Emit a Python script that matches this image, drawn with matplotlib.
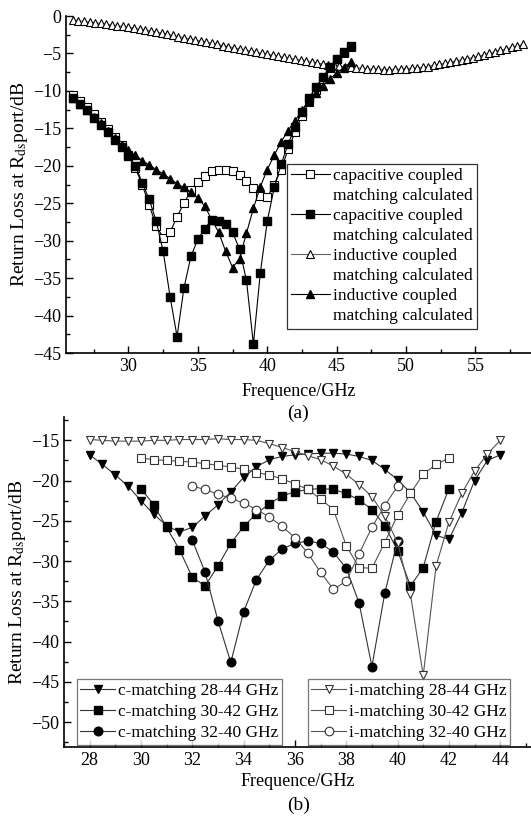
import matplotlib
matplotlib.use("Agg")
import matplotlib.pyplot as plt
from matplotlib.ticker import MultipleLocator
from matplotlib.lines import Line2D

plt.rcParams['font.family'] = ['Liberation Serif', 'DejaVu Serif']
plt.rcParams['mathtext.fontset'] = 'stix'

# ---------------- panel (a) data ----------------
xa = [26.0, 26.5, 27.0, 27.5, 28.0, 28.5, 29.0, 29.5, 30.0, 30.5, 31.0, 31.5, 32.0, 32.5,
      33.0, 33.5, 34.0, 34.5, 35.0, 35.5, 36.0, 36.5, 37.0, 37.5, 38.0, 38.5, 39.0, 39.5,
      40.0, 40.5, 41.0, 41.5, 42.0, 42.5, 43.0, 43.5, 44.0, 44.5, 45.0, 45.5, 46.0]
cap_open = [-10.6, -11.4, -12.2, -13.1, -14.1, -15.1, -16.1, -17.2, -18.5, -20.3, -22.6, -25.3,
            -28.0, -29.6, -28.9, -26.8, -25.0, -23.3, -22.2, -21.3, -20.7, -20.5, -20.5, -20.7,
            -21.2, -22.0, -23.0, -24.0, -24.2, -22.5, -20.5, -17.8, -15.5, -13.3, -11.5, -9.9,
            -8.4, -7.0, -5.8, -4.9, -4.1]
cap_fill = [-11.0, -11.7, -12.6, -13.6, -14.5, -15.5, -16.5, -17.5, -18.7, -20.0, -22.3, -24.5,
            -27.4, -31.4, -37.5, -42.8, -36.3, -32.1, -29.8, -28.4, -27.2, -27.4, -27.8, -28.9,
            -31.1, -35.3, -43.8, -34.3, -27.4, -22.9, -19.8, -17.1, -14.8, -12.8, -11.0, -9.5,
            -8.2, -6.8, -5.7, -4.8, -4.0]
ind_fill = [-11.0, -11.8, -12.6, -13.5, -14.3, -15.3, -16.3, -17.2, -17.9, -18.6, -19.3, -19.9,
            -20.5, -21.1, -21.7, -22.4, -22.9, -23.5, -24.3, -25.4, -27.2, -28.9, -31.4, -33.6,
            -32.4, -29.0, -25.7, -22.8, -20.5, -18.6, -16.8, -15.3, -14.0, -12.6, -11.3, -10.3,
            -9.3, -8.4, -7.6, -6.9, -6.2]
xa_ind = [26.0, 26.4, 26.8, 27.2, 27.6, 28.0, 28.4, 28.8, 29.2, 29.6, 30.0, 30.4, 30.8, 31.2,
          31.6, 32.0, 32.4, 32.8, 33.2, 33.6, 34.0, 34.4, 34.8, 35.2, 35.6, 36.0, 36.4, 36.8,
          37.2, 37.6, 38.0, 38.4, 38.8, 39.2, 39.6, 40.0, 40.4, 40.8, 41.2, 41.6, 42.0, 42.4,
          42.8, 43.2, 43.6, 44.0, 44.4, 44.8, 45.2, 45.6, 46.0, 46.4, 46.8, 47.2, 47.6, 48.0,
          48.4, 48.8, 49.2, 49.6, 50.0, 50.4, 50.8, 51.2, 51.6, 52.0, 52.4, 52.8, 53.2, 53.6,
          54.0, 54.4, 54.8, 55.2, 55.6, 56.0, 56.4, 56.8, 57.2, 57.6, 58.0, 58.4]
ind_open = [-0.6, -0.65, -0.7, -0.8, -0.9, -1.0, -1.1, -1.2, -1.3, -1.4, -1.5, -1.6, -1.75, -1.9,
            -2.0, -2.15, -2.3, -2.45, -2.6, -2.75, -2.9, -3.05, -3.2, -3.35, -3.5, -3.65, -3.8,
            -3.95, -4.1, -4.25, -4.4, -4.55, -4.7, -4.85, -5.0, -5.1, -5.25, -5.4, -5.5, -5.65,
            -5.8, -5.9, -6.05, -6.15, -6.3, -6.4, -6.5, -6.6, -6.7, -6.8, -6.85, -6.9, -7.0,
            -7.05, -7.1, -7.1, -7.15, -7.15, -7.1, -7.1, -7.05, -7.0, -6.95, -6.85, -6.75, -6.55,
            -6.45, -6.3, -6.15, -6.0, -5.85, -5.7, -5.55, -5.4, -5.2, -5.0, -4.8, -4.6, -4.4,
            -4.2, -4.0, -3.8]
labels_a_top = ["capacitive coupled", "capacitive coupled", "inductive coupled", "inductive coupled"]
label_a_second = "matching calculated"

# ---------------- panel (b) data ----------------
xb28 = [28.0, 28.5, 29.0, 29.5, 30.0, 30.5, 31.0, 31.5, 32.0, 32.5, 33.0, 33.5, 34.0, 34.5,
        35.0, 35.5, 36.0, 36.5, 37.0, 37.5, 38.0, 38.5, 39.0, 39.5, 40.0, 40.5, 41.0, 41.5,
        42.0, 42.5, 43.0, 43.5, 44.0]
c28 = [-16.8, -18.0, -19.3, -20.7, -22.5, -24.2, -25.6, -26.4, -25.8, -24.4, -23.0, -21.4,
       -19.6, -18.3, -17.4, -17.0, -16.8, -16.7, -16.6, -16.6, -16.7, -17.0, -17.5, -18.6,
       -19.9, -21.5, -23.9, -26.8, -27.3, -24.0, -20.0, -17.5, -16.8]
i28 = [-14.9, -15.0, -15.1, -15.1, -15.1, -15.0, -15.0, -14.9, -14.9, -14.9, -14.8, -14.9,
       -14.9, -15.0, -15.4, -15.9, -16.4, -16.9, -17.4, -18.2, -19.2, -20.5, -22.0, -24.4,
       -27.7, -34.1, -44.2, -30.6, -25.2, -21.6, -18.8, -16.7, -15.0]
xb30 = [30.0, 30.5, 31.0, 31.5, 32.0, 32.5, 33.0, 33.5, 34.0, 34.5, 35.0, 35.5, 36.0, 36.5,
        37.0, 37.5, 38.0, 38.5, 39.0, 39.5, 40.0, 40.5, 41.0, 41.5, 42.0]
c30 = [-21.0, -23.0, -25.8, -28.6, -32.0, -33.1, -30.6, -27.8, -25.7, -24.1, -22.9, -21.9,
       -21.4, -21.1, -21.0, -21.1, -21.6, -22.4, -23.6, -25.6, -28.7, -33.1, -30.8, -25.1, -21.0]
i30 = [-17.2, -17.4, -17.5, -17.6, -17.7, -17.9, -18.1, -18.3, -18.6, -19.0, -19.3, -19.8,
       -20.4, -21.1, -22.3, -23.6, -28.1, -30.8, -30.9, -27.7, -24.3, -21.6, -19.2, -18.0, -17.2]
xb32 = [32.0, 32.5, 33.0, 33.5, 34.0, 34.5, 35.0, 35.5, 36.0, 36.5, 37.0, 37.5, 38.0, 38.5,
        39.0, 39.5, 40.0]
c32 = [-27.4, -31.4, -37.4, -42.6, -36.3, -32.3, -29.9, -28.5, -27.8, -27.5, -27.8, -28.9,
       -30.9, -35.2, -43.1, -34.0, -27.5]
i32 = [-20.7, -21.1, -21.7, -22.2, -22.8, -23.6, -24.5, -25.7, -27.1, -29.0, -31.4, -33.5,
       -32.5, -29.1, -25.8, -23.1, -20.7]
labels_b_c = ["c-matching 28-44 GHz", "c-matching 30-42 GHz", "c-matching 32-40 GHz"]
labels_b_i = ["i-matching 28-44 GHz", "i-matching 30-42 GHz", "i-matching 32-40 GHz"]

W, H = 531, 818
fig = plt.figure(figsize=(W / 100, H / 100), dpi=100)

def style_axes(ax):
    for s in ['top', 'right']:
        ax.spines[s].set_visible(False)
    for s in ['left', 'bottom']:
        ax.spines[s].set_linewidth(1.2)
    ax.tick_params(which='both', direction='in', labelsize=13, width=1.0)
    ax.tick_params(which='major', length=5)
    ax.tick_params(which='minor', length=3)

# ---------- panel (a) ----------
axa = fig.add_axes([66 / W, 1 - 353 / H, (W - 66) / W, (353 - 16) / H])
style_axes(axa)
ms = 5.2
h_io, = axa.plot(xa_ind, ind_open, color='#666666', lw=0.8, marker='^', ms=ms, mfc='white',
                 mec='black', mew=0.8, zorder=2)
h_co, = axa.plot(xa, cap_open, color='black', lw=0.8, marker='s', ms=ms, mfc='white', mec='black',
                 mew=0.8, zorder=3)
h_if, = axa.plot(xa, ind_fill, color='black', lw=0.8, marker='^', ms=ms + 0.6, mfc='black',
                 mec='black', zorder=4)
h_cf, = axa.plot(xa, cap_fill, color='black', lw=0.8, marker='s', ms=ms, mfc='black', mec='black',
                 zorder=5)
axa.set_xlim(25.5, 59)
axa.set_ylim(-45, 0)
axa.xaxis.set_minor_locator(MultipleLocator(2.5))
axa.yaxis.set_major_locator(MultipleLocator(5))
axa.yaxis.set_minor_locator(MultipleLocator(2.5))
axa.set_xticks([30, 35, 40, 45, 50, 55])
axa.set_xlabel("Frequence/GHz", fontsize=13, labelpad=6)
axa.set_ylabel(r"Return Loss at R$_{\mathrm{ds}}$port/dB", fontsize=14, labelpad=2)

blank = Line2D([], [], lw=0, marker='')
handles_a, labs_a = [], []
for hh, lab in zip([h_co, h_cf, h_io, h_if], labels_a_top):
    handles_a += [hh, blank]
    labs_a += [lab, label_a_second]
leg = axa.legend(handles_a, labs_a, loc='upper left',
                 bbox_to_anchor=((287 - 66) / (W - 66), (353 - 164) / (353 - 16)),
                 borderaxespad=0, fontsize=12.5, frameon=True, fancybox=False,
                 handlelength=2.2, handletextpad=0.2, borderpad=0.25, labelspacing=0.22)
leg.get_frame().set_edgecolor('black')
leg.get_frame().set_linewidth(0.9)
fig.text(0.5 + 33 / W, 1 - 413 / H, "(a)", ha='center', va='center', fontsize=14)

# ---------- panel (b) ----------
axb = fig.add_axes([64 / W, 1 - 747 / H, (W - 64) / W, (747 - 417) / H])
style_axes(axb)
msb = 6.2
l1, = axb.plot(xb28, c28, color='#333333', lw=0.8, marker='v', ms=msb, mfc='black', mec='black')
l2, = axb.plot(xb30, c30, color='#333333', lw=0.8, marker='s', ms=msb - 0.6, mfc='black', mec='black')
l3, = axb.plot(xb32, c32, color='#333333', lw=0.8, marker='o', ms=msb, mfc='black', mec='black')
l4, = axb.plot(xb28, i28, color='#555555', lw=0.8, marker='v', ms=msb, mfc='white', mec='#333333', mew=0.8)
l5, = axb.plot(xb30, i30, color='#555555', lw=0.8, marker='s', ms=msb - 0.6, mfc='white', mec='#333333', mew=0.8)
l6, = axb.plot(xb32, i32, color='#555555', lw=0.8, marker='o', ms=msb, mfc='white', mec='#333333', mew=0.8)
axb.set_xlim(27, 45.2)
axb.set_ylim(-53.1, -12.1)
axb.set_xticks([28, 30, 32, 34, 36, 38, 40, 42, 44])
axb.xaxis.set_minor_locator(MultipleLocator(1))
axb.yaxis.set_minor_locator(MultipleLocator(2.5))
axb.set_yticks([-15, -20, -25, -30, -35, -40, -45, -50])
axb.set_xlabel("Frequence/GHz", fontsize=13, labelpad=3)
axb.set_ylabel(r"Return Loss at R$_{\mathrm{ds}}$port/dB", fontsize=14, labelpad=2)

legc = axb.legend([l1, l2, l3], labels_b_c, loc='upper left',
                  bbox_to_anchor=((77 - 64) / (W - 64), (747 - 679) / (747 - 417)),
                  borderaxespad=0, fontsize=12.5, frameon=True, fancybox=False,
                  handlelength=2.0, handletextpad=0.15, borderpad=0.2, labelspacing=0.3)
legc.get_frame().set_edgecolor('#555555')
legc.get_frame().set_linewidth(0.9)
axb.add_artist(legc)
legi = axb.legend([l4, l5, l6], labels_b_i, loc='upper left',
                  bbox_to_anchor=((308 - 64) / (W - 64), (747 - 679) / (747 - 417)),
                  borderaxespad=0, fontsize=12.5, frameon=True, fancybox=False,
                  handlelength=2.0, handletextpad=0.15, borderpad=0.2, labelspacing=0.3)
legi.get_frame().set_edgecolor('#555555')
legi.get_frame().set_linewidth(0.9)
fig.text(0.5 + 33 / W, 1 - 805 / H, "(b)", ha='center', va='center', fontsize=14)

fig.savefig("out.png", dpi=100)
